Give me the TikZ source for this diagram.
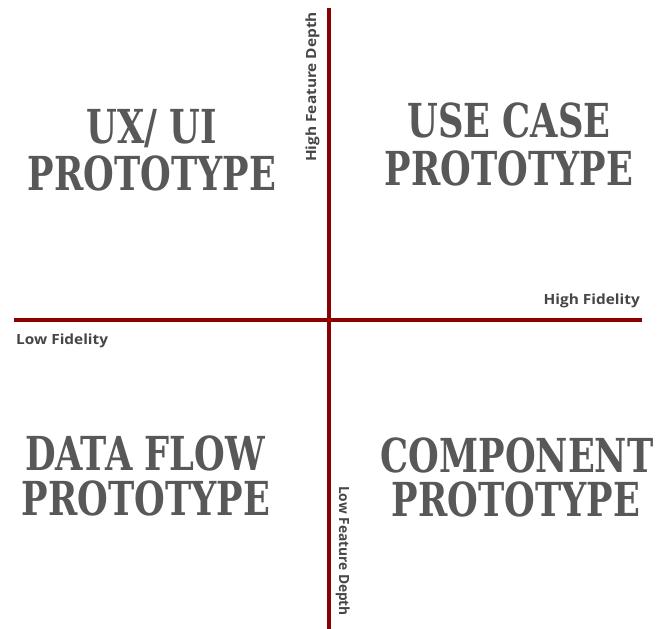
\documentclass[tikz,border=0pt]{standalone}
\usepackage{fontspec}
\setmainfont{DejaVu Serif Condensed}
\newfontfamily\labelfont{Open Sans}
\definecolor{axisred}{RGB}{139,0,0}
\definecolor{titlegrey}{RGB}{88,88,88}
\definecolor{labelgrey}{RGB}{70,70,70}
\newcommand\ttltext[1]{\scalebox{0.98}[1.17]{#1}}
\newcommand\lbltext[1]{\scalebox{1.1}[1]{#1}}
\begin{document}
\begin{tikzpicture}[x=1pt,y=-1pt,
  axis/.style={draw=axisred,line width=4.8pt},
  title/.style={anchor=base,inner sep=0pt,text=titlegrey,font=\fontsize{40}{40}\selectfont\bfseries},
  axlabel/.style={inner sep=0pt,text=labelgrey,font=\labelfont\fontsize{14}{14}\selectfont\bfseries}]
\useasboundingbox[fill=white] (0,0) rectangle (664,629);
\coordinate (vtop) at (329,8);
\coordinate (vbot) at (329,629);
\coordinate (hleft) at (14,320);
\coordinate (hright) at (642,320);
\draw[axis] (vtop) -- (vbot);
\draw[axis] (hleft) -- (hright);
\node[title] (uxa) at (152,143) {\ttltext{UX/ UI}};
\node[title] (uxb) at (152,190) {\ttltext{PROTOTYPE}};
\node[title] (uca) at (509,137) {\ttltext{USE CASE}};
\node[title] (ucb) at (509,185) {\ttltext{PROTOTYPE}};
\node[title] (dfa) at (145,470) {\ttltext{DATA FLOW}};
\node[title] (dfb) at (146,515) {\ttltext{PROTOTYPE}};
\node[title] (cpa) at (517,472) {\ttltext{COMPONENT}};
\node[title] (cpb) at (516,516) {\ttltext{PROTOTYPE}};
\node[axlabel,anchor=base east] (hf) at (640,304) {\lbltext{High Fidelity}};
\node[axlabel,anchor=base west] (lf) at (16,344) {\lbltext{Low Fidelity}};
\node[axlabel,anchor=base west,rotate=90] (hfd) at (316,162) {\lbltext{High Feature Depth}};
\node[axlabel,anchor=base west,rotate=-90] (lfd) at (339,486) {\scalebox{0.98}[1]{Low Feature Depth}};
\end{tikzpicture}
\end{document}
